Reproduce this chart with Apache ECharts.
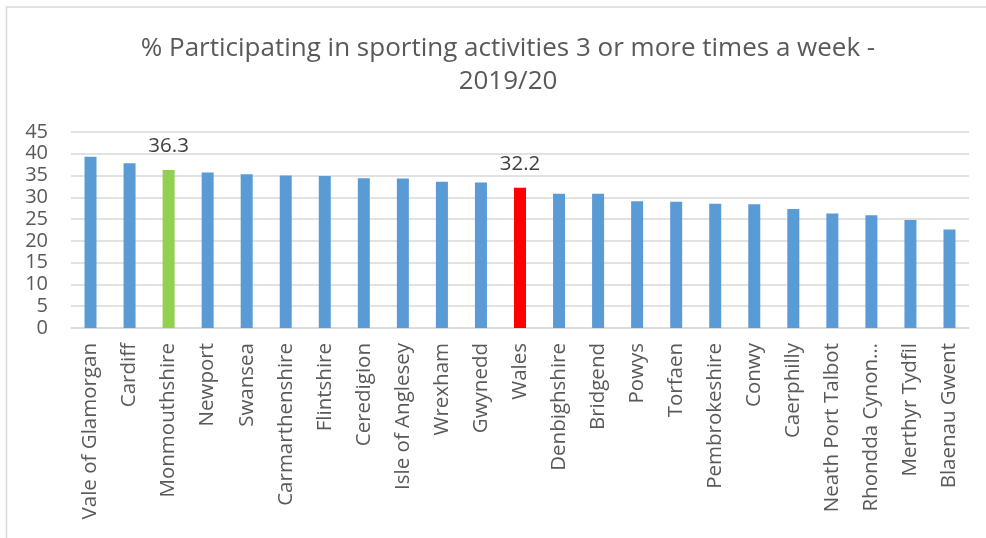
<!DOCTYPE html>
<html>
<head>
<meta charset="utf-8">
<script src="https://cdn.jsdelivr.net/npm/echarts@6/dist/echarts.min.js"></script>
<style>
html,body{margin:0;padding:0;background:#fff;}
#chart{width:986px;height:538px;}
</style>
</head>
<body>
<div id="chart"></div>
<script>
const titleText = '% Participating in sporting activities 3 or more times a week -\n2019/20';
const categories = ['Vale of Glamorgan','Cardiff','Monmouthshire','Newport','Swansea','Carmarthenshire','Flintshire','Ceredigion','Isle of Anglesey','Wrexham','Gwynedd','Wales','Denbighshire','Bridgend','Powys','Torfaen','Pembrokeshire','Conwy','Caerphilly','Neath Port Talbot','Rhondda Cynon…','Merthyr Tydfil','Blaenau Gwent'];
const values = [39.3,37.8,36.3,35.7,35.3,35.0,34.9,34.4,34.3,33.6,33.4,32.2,30.8,30.8,29.1,29.0,28.5,28.4,27.3,26.3,25.9,24.8,22.6];
const highlighted = {'Monmouthshire':'#92D050','Wales':'#FF0000'};
const yMin = 0, yMax = 45, yStep = 5;

const FONT = 'Open Sans';
const seriesData = values.map((v, i) => {
  const c = categories[i];
  if (highlighted[c]) {
    return {
      value: v,
      itemStyle: {color: highlighted[c]},
      label: {show: true, position: 'top', distance: 13, color: '#404040', fontSize: 20.5, fontFamily: FONT, formatter: p => p.value.toFixed(1)}
    };
  }
  return v;
});

const chart = echarts.init(document.getElementById('chart'), null, {renderer: 'canvas'});
chart.setOption({
  animation: false,
  backgroundColor: '#fff',
  graphic: [{
    type: 'rect', z: -1, silent: true,
    shape: {x: 6.5, y: 7, width: 1100, height: 700},
    style: {fill: 'none', stroke: '#d9d9d9', lineWidth: 1.5}
  }],
  title: {
    text: titleText,
    left: 503, top: 27,
    textAlign: 'center',
    textStyle: {fontFamily: FONT, fontSize: 26, fontWeight: 'normal', color: '#595959', lineHeight: 33}
  },
  grid: {left: 71, right: 17, top: 132, bottom: 210},
  xAxis: {
    type: 'category',
    data: categories,
    axisLine: {lineStyle: {color: '#d9d9d9', width: 1.5}},
    axisTick: {show: false},
    axisLabel: {rotate: 90, interval: 0, margin: 15, color: '#595959', fontSize: 20.5, fontFamily: FONT}
  },
  yAxis: {
    type: 'value',
    min: yMin, max: yMax, interval: yStep,
    axisLine: {show: false},
    axisTick: {show: false},
    splitLine: {lineStyle: {color: '#d9d9d9', width: 1.5}},
    axisLabel: {margin: 23, color: '#595959', fontSize: 20, fontFamily: FONT}
  },
  series: [{
    type: 'bar',
    data: seriesData,
    barWidth: 12,
    itemStyle: {color: '#5B9BD5'}
  }]
});
</script>
</body>
</html>
